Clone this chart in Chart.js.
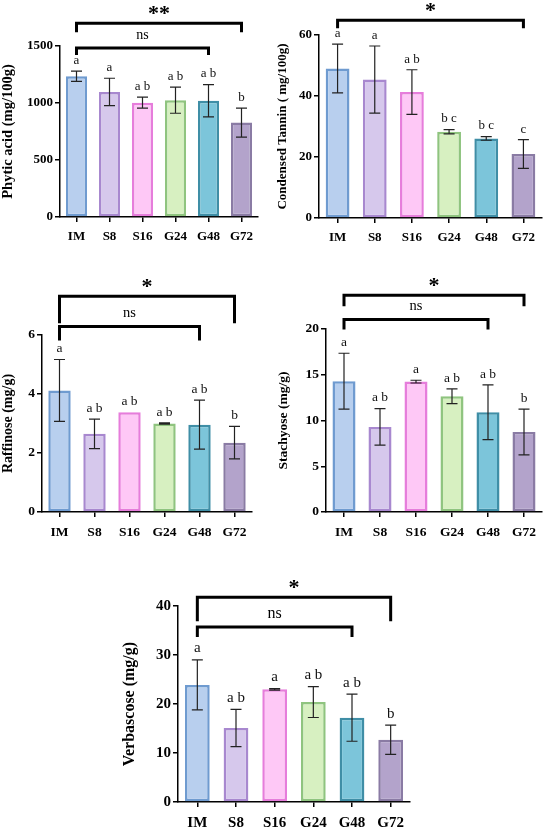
<!DOCTYPE html>
<html>
<head>
<meta charset="utf-8">
<script src="https://cdn.jsdelivr.net/npm/chart.js@4.4.1/dist/chart.umd.min.js"></script>
<style>
  body { margin: 0; background: #fff; }
  #page { position: relative; width: 550px; height: 834px; overflow: hidden; }
  .panel { position: absolute; }
</style>
</head>
<body>
<div id="page">
  <div class="panel" style="left:0;top:0;width:265px;height:250px"><canvas id="phytic"></canvas></div>
  <div class="panel" style="left:275px;top:0;width:275px;height:250px"><canvas id="tannin"></canvas></div>
  <div class="panel" style="left:0;top:260px;width:265px;height:290px"><canvas id="raffinose"></canvas></div>
  <div class="panel" style="left:275px;top:260px;width:275px;height:290px"><canvas id="stachyose"></canvas></div>
  <div class="panel" style="left:120px;top:545px;width:300px;height:289px"><canvas id="verbascose"></canvas></div>
</div>
<script>
// --- data ---
const groups = ['IM', 'S8', 'S16', 'G24', 'G48', 'G72'];

const phyticMean = [1235, 1097, 1003, 1025, 1020, 828];
const phyticSd = [45, 120, 48, 115, 142, 127];
const phyticLetters = ['a', 'a', 'a b', 'a b', 'a b', 'b'];

const tanninMean = [49.0, 45.4, 41.3, 28.3, 26.1, 21.0];
const tanninSd = [8.0, 11.0, 7.3, 0.7, 0.6, 4.7];
const tanninLetters = ['a', 'a', 'a b', 'b c', 'b c', 'c'];

const raffinoseMean = [4.12, 2.65, 3.38, 3.00, 2.96, 2.35];
const raffinoseSd = [1.05, 0.50, 0, 0.02, 0.83, 0.55];
const raffinoseLetters = ['a', 'a b', 'a b', 'a b', 'a b', 'b'];

const stachyoseMean = [14.3, 9.3, 14.25, 12.65, 10.9, 8.75];
const stachyoseSd = [3.05, 2.0, 0.15, 0.8, 3.0, 2.5];
const stachyoseLetters = ['a', 'a b', 'a', 'a b', 'a b', 'b'];

const verbascoseMean = [23.9, 15.1, 23.0, 20.4, 17.2, 12.7];
const verbascoseSd = [5.1, 3.8, 0.15, 3.15, 4.8, 3.0];
const verbascoseLetters = ['a', 'a b', 'a', 'a b', 'a b', 'b'];

// --- styles ---
const fills = ['#b8cfee', '#d6c8ec', '#fec8f6', '#d7f0c1', '#7cc5da', '#b3a3cb'];
const borders = ['#6f9bd0', '#a888cf', '#e67ddb', '#8fc47f', '#3f8ea6', '#8a7ba4'];
const serif = "'Liberation Serif', 'DejaVu Serif', serif";

// error bars, group letters and significance brackets
const annotate = {
    id: 'annotate',
    afterDatasetsDraw(chart, args, opts) {
        const ctx = chart.ctx;
        const xs = chart.scales.x;
        const ys = chart.scales.y;
        ctx.save();
        ctx.strokeStyle = '#222';
        ctx.fillStyle = '#111';
        ctx.lineWidth = 1.2;
        ctx.textAlign = 'center';
        ctx.textBaseline = 'bottom';
        ctx.font = opts.textSize + 'px ' + serif;
        opts.mean.forEach(function (m, i) {
            const x = xs.getPixelForValue(i);
            const sd = opts.sd[i];
            let top = ys.getPixelForValue(m);
            if (sd > 0) {
                const y1 = ys.getPixelForValue(m + sd);
                const y2 = ys.getPixelForValue(m - sd);
                ctx.beginPath();
                ctx.moveTo(x, y1); ctx.lineTo(x, y2);
                ctx.moveTo(x - 5.5, y1); ctx.lineTo(x + 5.5, y1);
                ctx.moveTo(x - 5.5, y2); ctx.lineTo(x + 5.5, y2);
                ctx.stroke();
                top = y1;
            }
            ctx.fillText(opts.letters[i], x, top - 4);
        });

        ctx.lineWidth = 3;
        ctx.strokeStyle = '#000';
        ctx.fillStyle = '#000';
        opts.brackets.forEach(function (b) {
            const x1 = xs.getPixelForValue(b.from);
            const x2 = xs.getPixelForValue(b.to);
            const y = ys.getPixelForValue(b.level);
            ctx.beginPath();
            ctx.moveTo(x1, y + b.drop);
            ctx.lineTo(x1, y);
            ctx.lineTo(x2, y);
            ctx.lineTo(x2, y + b.drop);
            ctx.stroke();
            ctx.textBaseline = 'middle';
            if (b.label === 'ns') {
                ctx.font = (opts.textSize + 1) + 'px ' + serif;
                ctx.fillText(b.label, (x1 + x2) / 2, y - 13);
            } else {
                ctx.font = 'bold 22px ' + serif;
                ctx.fillText(b.label, (x1 + x2) / 2, y - 9);
            }
        });
        ctx.restore();
    }
};

function makeChart(id, p) {
    return new Chart(document.getElementById(id), {
        type: 'bar',
        data: {
            labels: groups,
            datasets: [{
                data: p.mean,
                backgroundColor: fills,
                borderColor: borders,
                borderWidth: 2.5,
                borderSkipped: false,
                barPercentage: 0.64,
                categoryPercentage: 1
            }]
        },
        plugins: [annotate],
        options: {
            responsive: true,
            maintainAspectRatio: false,
            animation: false,
            layout: { padding: { top: p.top, right: p.right, left: 0, bottom: 0 } },
            scales: {
                x: {
                    afterFit: function (s) { s.height = p.xHeight; },
                    border: { color: '#000', width: 1.5 },
                    grid: { drawOnChartArea: false, offset: false, tickLength: 5, color: '#000', lineWidth: 1.5 },
                    ticks: { color: '#000', padding: 7, font: { family: serif, size: p.tickSize, weight: 'bold' } }
                },
                y: {
                    min: 0,
                    max: p.max,
                    afterFit: function (s) { s.width = p.yWidth; },
                    border: { color: '#000', width: 1.5 },
                    grid: { drawOnChartArea: false, tickLength: 5, color: '#000', lineWidth: 1.5 },
                    ticks: {
                        stepSize: p.step, color: '#000', padding: 2,
                        font: { family: serif, size: p.tickSize, weight: 'bold' },
                        callback: function (v) { return String(v); }
                    },
                    title: { display: true, text: p.title, color: '#000', padding: 0, font: { family: serif, size: p.titleSize, weight: 'bold' } }
                }
            },
            plugins: {
                legend: { display: false },
                tooltip: { enabled: false },
                annotate: { mean: p.mean, sd: p.sd, letters: p.letters, brackets: p.brackets, textSize: p.textSize }
            }
        }
    });
}

document.addEventListener('DOMContentLoaded', function () {
    makeChart('phytic', {
        mean: phyticMean, sd: phyticSd, letters: phyticLetters,
        title: 'Phytic acid (mg/100g)', max: 1500, step: 500,
        top: 46, right: 7, yWidth: 60, xHeight: 33,
        tickSize: 13, titleSize: 14.5, textSize: 13,
        brackets: [
            { from: 0, to: 5, level: 1700, drop: 9, label: '**' },
            { from: 0, to: 4, level: 1482, drop: 7, label: 'ns' }
        ]
    });
    makeChart('tannin', {
        mean: tanninMean, sd: tanninSd, letters: tanninLetters,
        title: 'Condensed Tannin ( mg/100g)', max: 60, step: 20,
        top: 35, right: 8, yWidth: 44, xHeight: 32,
        tickSize: 13, titleSize: 13, textSize: 13,
        brackets: [
            { from: 0, to: 5, level: 64.8, drop: 8, label: '*' }
        ]
    });
    makeChart('raffinose', {
        mean: raffinoseMean, sd: raffinoseSd, letters: raffinoseLetters,
        title: 'Raffinose (mg/g)', max: 6, step: 2,
        top: 75, right: 13, yWidth: 42, xHeight: 38,
        tickSize: 13.5, titleSize: 14, textSize: 13.5,
        brackets: [
            { from: 0, to: 5, level: 7.31, drop: 27, label: '*' },
            { from: 0, to: 4, level: 6.29, drop: 14, label: 'ns' }
        ]
    });
    makeChart('stachyose', {
        mean: stachyoseMean, sd: stachyoseSd, letters: stachyoseLetters,
        title: 'Stachyose (mg/g)', max: 20, step: 5,
        top: 69, right: 8, yWidth: 51, xHeight: 38,
        tickSize: 13.5, titleSize: 13.5, textSize: 13.5,
        brackets: [
            { from: 0, to: 5, level: 23.7, drop: 11, label: '*' },
            { from: 0, to: 4, level: 21.05, drop: 10, label: 'ns' }
        ]
    });
    makeChart('verbascose', {
        mean: verbascoseMean, sd: verbascoseSd, letters: verbascoseLetters,
        title: 'Verbascose (mg/g)', max: 40, step: 10,
        top: 61, right: 10, yWidth: 58, xHeight: 32,
        tickSize: 15, titleSize: 16, textSize: 15,
        brackets: [
            { from: 0, to: 5, level: 41.8, drop: 24, label: '*' },
            { from: 0, to: 4, level: 35.7, drop: 10, label: 'ns' }
        ]
    });
});
</script>
</body>
</html>
